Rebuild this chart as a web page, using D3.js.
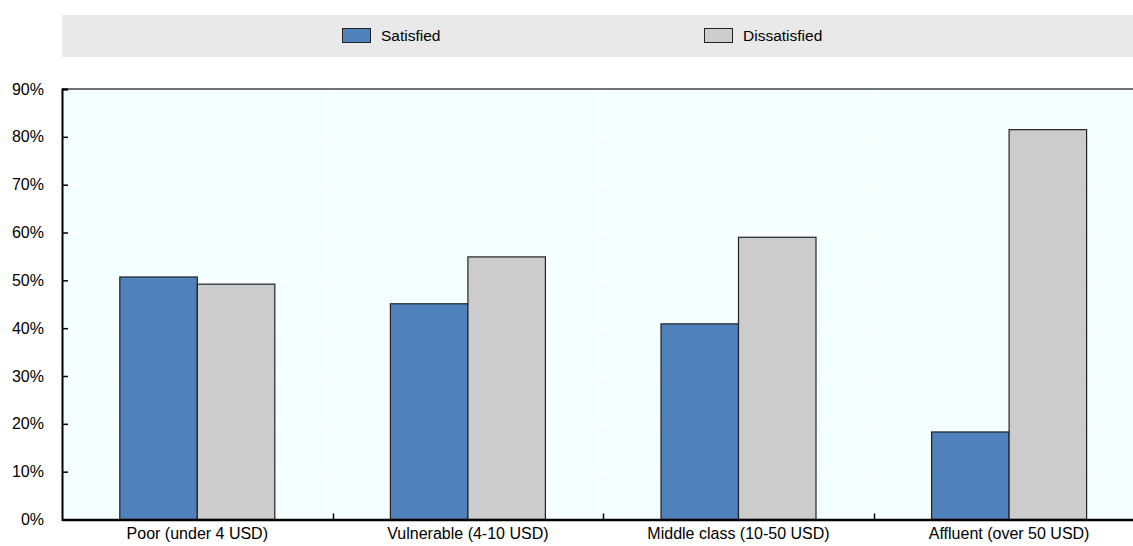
<!DOCTYPE html>
<html><head><meta charset="utf-8">
<script src="https://cdn.jsdelivr.net/npm/d3@7"></script>
<style>body{margin:0;background:#fff;overflow:hidden}svg{display:block;font-family:"Liberation Sans",Arial,sans-serif}</style>
</head><body><svg id="c" width="1133" height="546"></svg>
<script>
const categories = ["Poor (under 4 USD)", "Vulnerable (4-10 USD)", "Middle class (10-50 USD)", "Affluent (over 50 USD)"];
const seriesNames = ["Satisfied", "Dissatisfied"];
const satisfied = [50.7, 45.1, 40.9, 18.3];
const dissatisfied = [49.2, 54.9, 59.0, 81.5];
const yTicks = [0, 10, 20, 30, 40, 50, 60, 70, 80, 90];
const colors = ["#4f81bd", "#cccccc"];

const svg = d3.select("#c");
const pLeft = 62, pRight = 1144.4, pTop = 89, pBottom = 519.5;

const x = d3.scaleBand().domain(categories).range([pLeft, pRight]).paddingInner(0).paddingOuter(0);
const y = d3.scaleLinear().domain([0, 90]).range([pBottom, pTop]);
const inner = d3.scaleBand().domain(seriesNames).range([0, 155]);
const groupOffset = (x.bandwidth() - 155) / 2;

// legend
svg.append("rect").attr("x", 62).attr("y", 15).attr("width", 1071).attr("height", 42).attr("fill", "#e9e9e9");
const legX = [342, 704];
seriesNames.forEach((s, i) => {
  svg.append("rect").attr("x", legX[i] + 0.5).attr("y", 28.5).attr("width", 28).attr("height", 14)
    .attr("fill", colors[i]).attr("stroke", "#222").attr("stroke-width", 1);
  svg.append("text").attr("x", legX[i] + 39).attr("y", 41).attr("font-size", 15.5).attr("fill", "#000").text(s);
});

// plot bg
svg.append("rect").attr("x", pLeft).attr("y", pTop).attr("width", pRight - pLeft).attr("height", pBottom - pTop).attr("fill", "#f4ffff");

// gridlines
svg.append("g").selectAll("line").data(yTicks.filter(d => d > 0 && d < 90)).join("line")
  .attr("x1", pLeft).attr("x2", pRight).attr("y1", d => Math.round(y(d)) + 0.5).attr("y2", d => Math.round(y(d)) + 0.5)
  .attr("stroke", "#fff").attr("stroke-width", 1.5);
svg.append("g").selectAll("line").data(categories.slice(1)).join("line")
  .attr("x1", d => Math.round(x(d)) + 0.5).attr("x2", d => Math.round(x(d)) + 0.5).attr("y1", pTop).attr("y2", pBottom)
  .attr("stroke", "#fff").attr("stroke-width", 1.5);

// bars
const data = categories.map((c, i) => ({c, vals: [satisfied[i], dissatisfied[i]]}));
const g = svg.append("g");
data.forEach(d => {
  d.vals.forEach((v, j) => {
    const bx = x(d.c) + groupOffset + inner(seriesNames[j]);
    g.append("rect").attr("x", bx).attr("y", y(v)).attr("width", inner.bandwidth()).attr("height", pBottom - y(v))
      .attr("fill", colors[j]).attr("stroke", "#222").attr("stroke-width", 1.2);
  });
});

// top border
svg.append("line").attr("x1", pLeft).attr("x2", 1133).attr("y1", pTop).attr("y2", pTop).attr("stroke", "#444").attr("stroke-width", 1.5);

// y axis
const yAxis = d3.axisLeft(y).tickValues(yTicks).tickFormat(d => d + "%").tickSize(-6).tickPadding(18);
const ya = svg.append("g").attr("transform", `translate(${pLeft},0)`).call(yAxis);
ya.select(".domain").attr("stroke", "#000").attr("stroke-width", 2);
ya.selectAll(".tick line").attr("stroke", "#000").attr("stroke-width", 1.5);
ya.selectAll(".tick text").attr("font-size", 16).attr("fill", "#000").attr("font-family", "Liberation Sans, Arial, sans-serif");

// x axis
const xAxis = d3.axisBottom(x).tickSize(0).tickPadding(8);
const xa = svg.append("g").attr("transform", `translate(0,${pBottom})`).call(xAxis);
xa.select(".domain").attr("stroke", "#000").attr("stroke-width", 2.5);
xa.selectAll(".tick text").attr("font-size", 16).attr("fill", "#000").attr("font-family", "Liberation Sans, Arial, sans-serif");
svg.append("g").selectAll("line").data(categories.slice(1)).join("line")
  .attr("x1", d => Math.round(x(d)) + 0.5).attr("x2", d => Math.round(x(d)) + 0.5).attr("y1", pBottom).attr("y2", pBottom - 6)
  .attr("stroke", "#000").attr("stroke-width", 1.5);
</script></body></html>
